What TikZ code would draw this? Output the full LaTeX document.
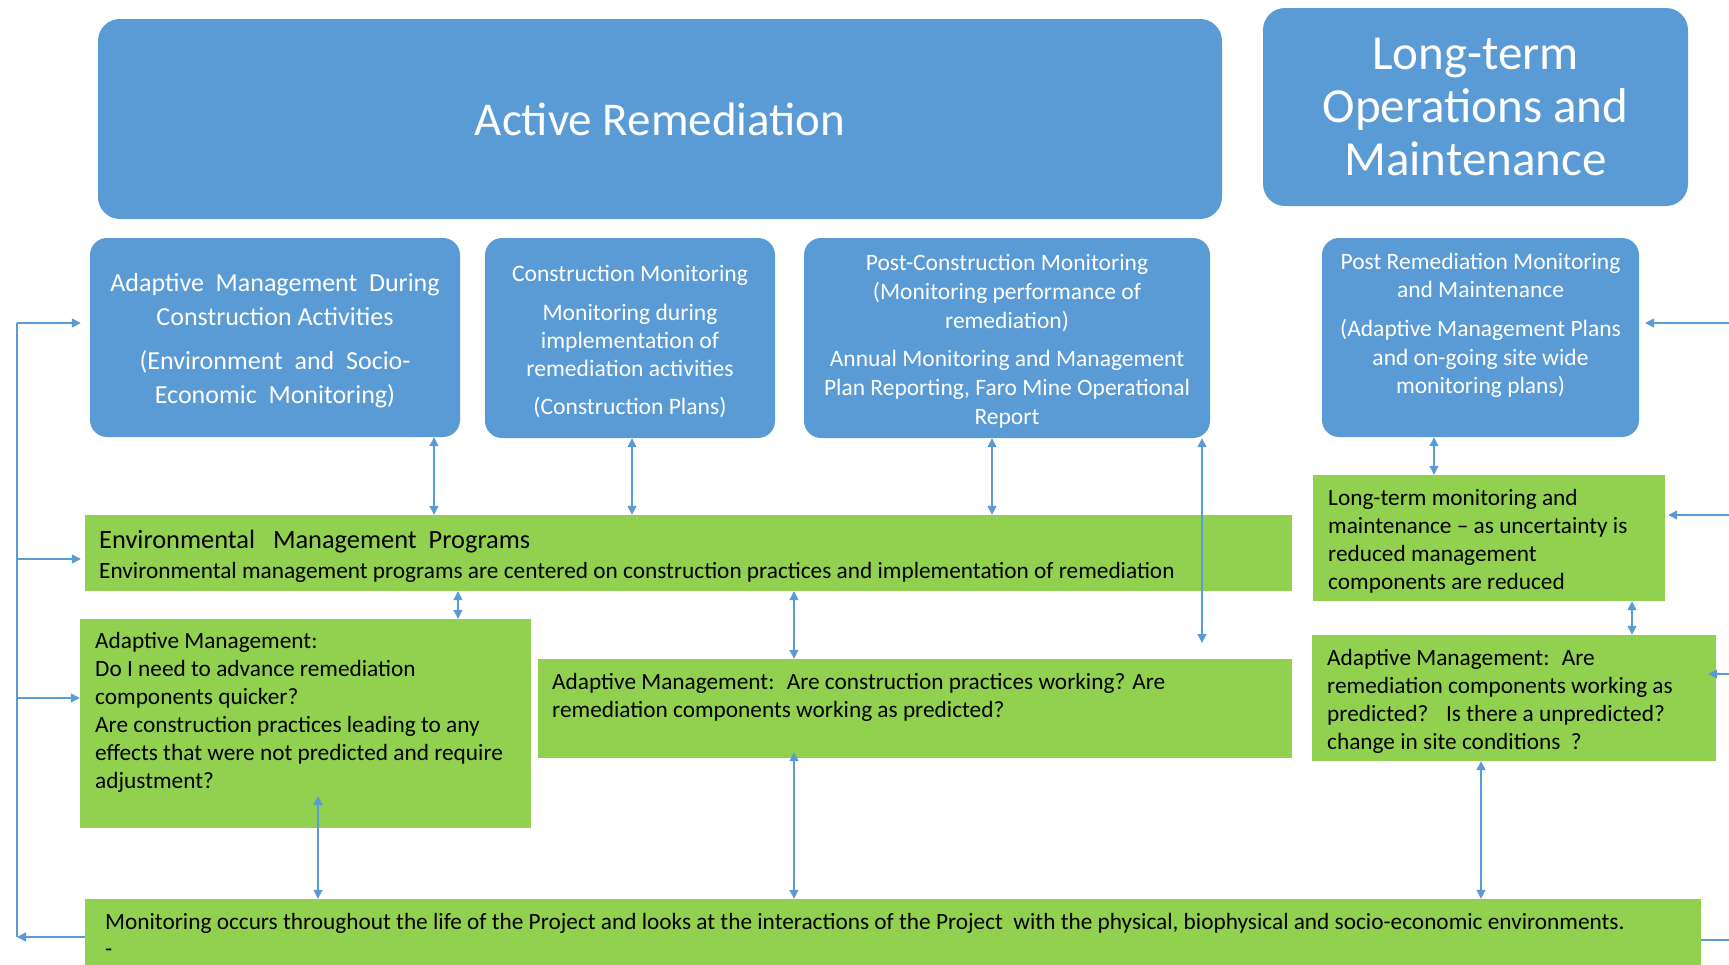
\documentclass[tikz,border=0pt]{standalone}
\usepackage{fontspec}
\setmainfont{Carlito}
\usetikzlibrary{arrows.meta}
\definecolor{boxblue}{HTML}{5B9BD5}
\definecolor{leafgreen}{HTML}{92D050}
\definecolor{linkblue}{HTML}{5B9BD5}
\begin{document}
\begin{tikzpicture}[x=1pt,y=-1pt,
  phase/.style={fill=boxblue, rounded corners=22pt, text=white, align=center, inner sep=0pt},
  stagebox/.style={fill=boxblue, rounded corners=17pt, inner sep=0pt},
  stagetext/.style={text=white, align=center, inner sep=0pt, font=\fontsize{23.5}{28.7}\selectfont},
  panel/.style={fill=leafgreen, inner sep=0pt},
  note/.style={text=black, align=left, inner sep=0pt, anchor=north west,
    font=\fontsize{23.3}{28}\selectfont},
  tip/.tip={Triangle[length=9pt,width=9pt]},
  link/.style={draw=linkblue, line width=1.5pt, {tip}-{tip}},
  feed/.style={draw=linkblue, line width=1.5pt, -{tip}},
  trunk/.style={draw=linkblue, line width=1.5pt},
]
\useasboundingbox (0,0) rectangle (1729,964);

% phase headers
\node[phase, minimum width=1124pt, minimum height=200pt, font=\fontsize{47}{53}\selectfont] (ar) at (660,119)
  {Active Remediation};
\node[phase, minimum width=425pt, minimum height=198pt, font=\fontsize{49}{53}\selectfont] (lt) at (1475.5,107)
  {Long-term\\Operations and\\Maintenance};

% monitoring stages
\node[stagebox, minimum width=370pt, minimum height=199pt] (A) at (275,337.5) {};
\node[stagebox, minimum width=290pt, minimum height=200pt] (B) at (630,338) {};
\node[stagebox, minimum width=406pt, minimum height=200pt] (C) at (1007,338) {};
\node[stagebox, minimum width=317pt, minimum height=199pt] (D) at (1480.5,337.5) {};

\node[stagetext, font=\fontsize{26}{34}\selectfont] (At) at (275,341)
  {Adaptive\ \ Management\ \ During\\Construction Activities\\[10pt]
   (Environment\ \ and\ \ Socio-\\Economic\ \ Monitoring)};
\node[stagetext, font=\fontsize{23.6}{28}\selectfont] (Bt) at (630,341.3)
  {Construction Monitoring\\[11pt]Monitoring during\\implementation of\\remediation activities\\[10pt](Construction Plans)};
\node[stagetext] (Ct) at (1007,341.3)
  {Post-Construction Monitoring\\(Monitoring performance of\\remediation)\\[10pt]
   Annual Monitoring and Management\\Plan Reporting, Faro Mine Operational\\Report};
\node[stagetext] (Dt) at (1480.5,325.3)
  {Post Remediation Monitoring\\and Maintenance\\[10pt](Adaptive Management Plans\\and on-going site wide\\monitoring plans)};

% management panels
\node[panel, minimum width=1207pt, minimum height=76pt] (emp) at (688.5,553) {};
\node[panel, minimum width=352pt, minimum height=126pt] (gl) at (1489,538) {};
\node[panel, minimum width=451pt, minimum height=209pt] (aml) at (305.5,723.5) {};
\node[panel, minimum width=754pt, minimum height=99pt] (amm) at (915,708.5) {};
\node[panel, minimum width=404pt, minimum height=126pt] (amr) at (1514,698) {};
\node[panel, minimum width=1616pt, minimum height=76pt] (mon) at (893,937) {};

\node[note, font=\fontsize{23.3}{30}\selectfont] (empt) at (99,529.5)
  {{\fontsize{26.4}{30}\selectfont Environmental~~ Management~ Programs}\\
   Environmental management programs are centered on construction practices and implementation of remediation};
\node[note] (glt) at (1328,489.5)
  {Long-term monitoring and\\maintenance -- as uncertainty is\\reduced management\\components are reduced};
\node[note] (amlt) at (95,632.5)
  {Adaptive Management:\\Do I need to advance remediation\\components quicker?\\Are construction practices leading to any\\effects that were not predicted and require\\adjustment?};
\node[note] (ammt) at (552,673.5)
  {Adaptive Management:~ Are construction practices working? Are\\remediation components working as predicted?};
\node[note] (amrt) at (1327,649.5)
  {Adaptive Management:~ Are\\remediation components working as\\predicted?~~ Is there a unpredicted?\\change in site conditions~ ?};
\node[note, font=\fontsize{23.3}{27}\selectfont] (mont) at (105,913.5)
  {Monitoring occurs throughout the life of the Project and looks at the interactions of the Project~ with the physical, biophysical and socio-economic environments.\\-};

% free ends of connectors
\coordinate (lvtop) at (17,323);
\coordinate (lvemp) at (17,559);
\coordinate (lvaml) at (17,698);
\coordinate (lvbot) at (17,937);
\coordinate (rD) at (1729,323);
\coordinate (rgl) at (1729,515);
\coordinate (ramr) at (1729,674);
\coordinate (rmon) at (1729,940);
\coordinate (cend) at (1202,643);
\coordinate (amlin) at (318,796);

% feedback trunk on the left
\draw[trunk] (lvbot) -- (lvtop);
\draw[feed] (mon.west) -- (lvbot);
\draw[feed] (lvtop) -- ([xshift=-9pt]lvtop -| A.west);
\draw[feed] (lvemp) -- ([xshift=-4pt]lvemp -| emp.west);
\draw[feed] (lvaml) -- (lvaml -| aml.west);

% feedback from the right
\draw[feed] (rD) -- ([xshift=6pt]rD -| D.east);
\draw[feed] (rgl) -- ([xshift=3pt]rgl -| gl.east);
\draw[feed] (ramr) -- ([xshift=-8pt]ramr -| amr.east);
\draw[trunk] (mon.east |- rmon) -- (rmon);

% vertical links
\draw[link] (434,0 |- A.south) -- (434,0 |- emp.north);
\draw[link] (632,0 |- B.south) -- (632,0 |- emp.north);
\draw[link] (992,0 |- C.south) -- (992,0 |- emp.north);
\draw[link] (cend |- C.south) -- (cend);
\draw[link] (458,0 |- emp.south) -- (458,0 |- aml.north);
\draw[link] (794,0 |- emp.south) -- (794,0 |- amm.north);
\draw[link] (amlin) -- (amlin |- mon.north);
\draw[link] ([yshift=6pt]794,0 |- amm.south) -- (794,0 |- mon.north);
\draw[link] (1481,0 |- amr.south) -- (1481,0 |- mon.north);
\draw[link] (1434,0 |- D.south) -- (1434,0 |- gl.north);
\draw[link] (1632,0 |- gl.south) -- (1632,0 |- amr.north);
\end{tikzpicture}
\end{document}
